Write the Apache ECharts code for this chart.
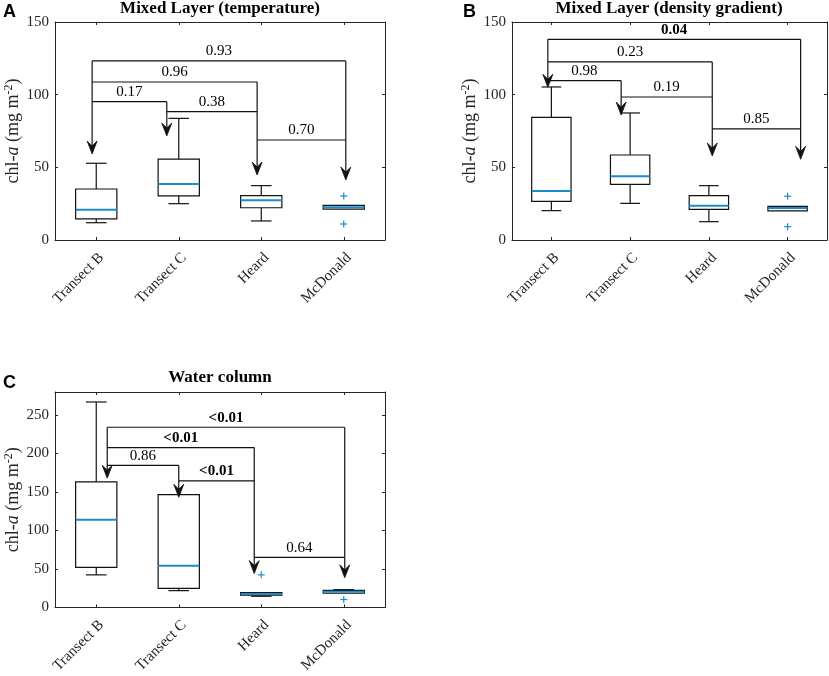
<!DOCTYPE html>
<html>
<head>
<meta charset="utf-8">
<script src="https://cdn.jsdelivr.net/npm/echarts@6/dist/echarts.min.js"></script>
<style>html,body{margin:0;padding:0;background:#fff}#c{width:829px;height:676px}</style>
</head>
<body>
<div id="c"></div>
<script>
const categories = ['Transect B', 'Transect C', 'Heard', 'McDonald'];

// boxes: [low whisker, q1, median, q3, high whisker]
const boxA = [[11.9, 14.5, 20.9, 35.1, 52.8], [25.0, 30.3, 38.5, 55.7, 83.7], [13.1, 22.2, 27.4, 30.6, 37.4], [21.2, 21.2, 22.6, 23.8, 23.8]];
const outliersA = [[3, 30.3], [3, 11.0]];
const boxB = [[20.2, 26.6, 33.7, 84.4, 105.3], [25.2, 38.3, 43.8, 58.5, 87.4], [12.6, 21.1, 23.6, 30.5, 37.4], [20.0, 20.0, 22.0, 23.2, 23.2]];
const outliersB = [[3, 30.1], [3, 9.2]];
const boxC = [[42.3, 52.1, 114.1, 163.2, 267], [21.8, 24.8, 54.3, 146.6, 146.6], [14.5, 15.8, 17.5, 19.2, 19.2], [18.4, 18.4, 20.5, 22.2, 23.1]];
const outliersC = [[2, 42.3], [3, 10.3]];

// comparison brackets
const pairs = [[0, 3], [0, 2], [0, 1], [1, 2], [2, 3]];
const levelsA = [123.2, 108.7, 95.2, 88.3, 68.8];
const pValuesA = ['0.93', '0.96', '0.17', '0.38', '0.70'];
const boldA = [false, false, false, false, false];
const arrowTipsA = [59.2, 71.6, 44.7, 41.3];

const levelsB = [138.1, 122.5, 109.6, 98.4, 76.4];
const pValuesB = ['0.04', '0.23', '0.98', '0.19', '0.85'];
const boldB = [true, false, false, false, false];
const arrowTipsB = [105.1, 86.0, 57.8, 55.5];

const levelsC = [234.2, 207.7, 184.6, 164.5, 65.0];
const pValuesC = ['<0.01', '<0.01', '0.86', '<0.01', '0.64'];
const boldC = [true, true, false, true, false];
const arrowTipsC = [168, 143.2, 44, 38.5];

const yTicks = [0, 50, 100, 150, 200, 250];

// layout constants (arrow line offset as fraction of category band)
const arrowShiftA = [-0.05, -0.145, -0.05, 0.025];
const arrowShiftB = [-0.045, -0.114, 0.043, 0.165];
const arrowShiftC = [0.133, 0, -0.085, 0.012];

const AX = '#262626';
const BLUE = '#1a8bcc';
const SERIF = '"Liberation Serif", "DejaVu Serif", serif';

const chart = echarts.init(document.getElementById('c'), null, {renderer: 'canvas'});

function ln(x1, y1, x2, y2, color, w) {
  return {type: 'line', shape: {x1, y1, x2, y2}, style: {stroke: color, lineWidth: w}};
}

function boxRender(params, api) {
  const cat = api.value(0);
  const bw = api.size([1, 0])[0];
  const half = bw * 0.25, cap = bw * 0.125;
  const cx = api.coord([cat, 0])[0];
  const y = i => api.coord([cat, api.value(i)])[1];
  const lo = y(1), q1 = y(2), md = y(3), q3 = y(4), hi = y(5);
  const ch = [];
  if (hi < q3 - 0.5) { ch.push(ln(cx, q3, cx, hi, '#111', 1.2)); ch.push(ln(cx - cap, hi, cx + cap, hi, '#111', 1.2)); }
  if (lo > q1 + 0.5) { ch.push(ln(cx, q1, cx, lo, '#111', 1.2)); ch.push(ln(cx - cap, lo, cx + cap, lo, '#111', 1.2)); }
  ch.push({type: 'rect', shape: {x: cx - half, y: q3, width: 2 * half, height: q1 - q3}, style: {fill: 'none', stroke: '#111', lineWidth: 1.2}});
  ch.push(ln(cx - half, md, cx + half, md, BLUE, 2));
  return {type: 'group', children: ch};
}

function outlierRender(params, api) {
  const p = api.coord([api.value(0), api.value(1)]);
  const s = 3.5;
  return {type: 'group', children: [
    ln(p[0] - s, p[1], p[0] + s, p[1], BLUE, 1.2),
    ln(p[0], p[1] - s, p[0], p[1] + s, BLUE, 1.2)
  ]};
}

function bracketRender(levels, pv, bold, shift) {
  return function (params, api) {
    const i = params.dataIndex;
    const bw = api.size([1, 0])[0];
    const a = api.value(0), lev = api.value(1), b = api.value(2);
    const p1 = api.coord([a, lev]), p2 = api.coord([b, lev]);
    const x1 = p1[0] + shift[a] * bw, x2 = p2[0] + shift[b] * bw;
    return {type: 'group', children: [
      ln(x1, p1[1], x2, p1[1], '#111', 1.2),
      {type: 'text', x: (x1 + x2) / 2, y: p1[1] - 2, style: {text: pv[i], fill: '#000', font: (bold[i] ? 'bold ' : '') + '15px ' + SERIF, align: 'center', verticalAlign: 'bottom'}}
    ]};
  };
}

function arrowRender(levels, shift) {
  return function (params, api) {
    const cat = api.value(0), tip = api.value(1);
    let top = -Infinity;
    pairs.forEach((pr, k) => { if (pr[0] === cat || pr[1] === cat) top = Math.max(top, levels[k]); });
    const bw = api.size([1, 0])[0];
    const pt = api.coord([cat, top]), pb = api.coord([cat, tip]);
    const x = pt[0] + shift[cat] * bw;
    const yt = pt[1], yb = pb[1];
    const L = 13, W = 5, N = 5;
    return {type: 'group', children: [
      ln(x, yt, x, yb - N, '#111', 1.2),
      {type: 'polygon', shape: {points: [[x, yb], [x - W, yb - L], [x, yb - L + N], [x + W, yb - L]]}, style: {fill: '#111', stroke: '#111', lineWidth: 0.8}}
    ]};
  };
}

const grids = [
  {left: 55, top: 22, width: 330, height: 218},
  {left: 512, top: 22, width: 315, height: 218},
  {left: 55, top: 392, width: 330, height: 218}
];
const maxes = [150, 150, 280];

const xAxes = [], yAxes = [];
grids.forEach((g, gi) => {
  ['bottom', 'top'].forEach(pos => {
    xAxes.push({
      type: 'category', gridIndex: gi, data: categories, position: pos,
      axisLine: {show: true, onZero: false, lineStyle: {color: AX, width: 1}},
      axisTick: {show: true, inside: true, alignWithLabel: true, length: 3, lineStyle: {color: AX}},
      axisLabel: pos === 'bottom' ? {show: true, rotate: 45, margin: 10, verticalAlign: 'top', color: AX, fontSize: 15, fontFamily: SERIF, interval: 0} : {show: false},
      splitLine: {show: false}
    });
  });
  ['left', 'right'].forEach(pos => {
    yAxes.push({
      type: 'value', gridIndex: gi, position: pos, min: 0, max: maxes[gi], interval: 50,
      axisLine: {show: true, onZero: false, lineStyle: {color: AX, width: 1}},
      axisTick: {show: true, inside: true, length: 3, lineStyle: {color: AX}},
      axisLabel: pos === 'left' ? {show: true, margin: 6, color: AX, fontSize: 15, fontFamily: SERIF, showMaxLabel: gi < 2,
        formatter: v => (yTicks.indexOf(v) >= 0 ? String(v) : '')} : {show: false},
      splitLine: {show: false},
      name: pos === 'left' ? '{n|chl-}{i|a}{n| (mg m}{s|-2}{n|)}' : '',
      nameLocation: 'middle', nameGap: 31,
      nameTextStyle: {color: AX, fontFamily: SERIF, fontSize: 18, rich: {
        n: {fontFamily: SERIF, fontSize: 18, color: AX},
        i: {fontFamily: SERIF, fontSize: 18, fontStyle: 'italic', color: AX},
        s: {fontFamily: SERIF, fontSize: 12, color: AX, padding: [0, 0, 9, 0]}
      }}
    });
  });
});

const panels = [
  {box: boxA, out: outliersA, lev: levelsA, pv: pValuesA, bold: boldA, tips: arrowTipsA, shift: arrowShiftA},
  {box: boxB, out: outliersB, lev: levelsB, pv: pValuesB, bold: boldB, tips: arrowTipsB, shift: arrowShiftB},
  {box: boxC, out: outliersC, lev: levelsC, pv: pValuesC, bold: boldC, tips: arrowTipsC, shift: arrowShiftC}
];

const series = [];
panels.forEach((p, gi) => {
  const xi = gi * 2, yi = gi * 2;
  series.push({type: 'custom', xAxisIndex: xi, yAxisIndex: yi, renderItem: boxRender, data: p.box.map((b, i) => [i].concat(b)), encode: {x: 0, y: [1, 2, 3, 4, 5]}, silent: true});
  series.push({type: 'custom', xAxisIndex: xi, yAxisIndex: yi, renderItem: outlierRender, data: p.out, encode: {x: 0, y: 1}, silent: true});
  series.push({type: 'custom', xAxisIndex: xi, yAxisIndex: yi, renderItem: bracketRender(p.lev, p.pv, p.bold, p.shift), data: pairs.map((pr, k) => [pr[0], p.lev[k], pr[1]]), encode: {x: 0, y: 1}, silent: true});
  series.push({type: 'custom', xAxisIndex: xi, yAxisIndex: yi, renderItem: arrowRender(p.lev, p.shift), data: p.tips.map((t, i) => [i, t]), encode: {x: 0, y: 1}, silent: true});
});

const titleFont = 'bold 17px ' + SERIF;
const letterFont = 'bold 18px "Liberation Sans", Arial, sans-serif';

chart.setOption({
  animation: false,
  backgroundColor: '#fff',
  grid: grids.map(g => Object.assign({containLabel: false, show: false}, g)),
  xAxis: xAxes,
  yAxis: yAxes,
  series: series,
  graphic: [
    {type: 'text', x: 220, y: 0, style: {text: 'Mixed Layer (temperature)', font: titleFont, fill: '#000', align: 'center'}},
    {type: 'text', x: 669, y: 0, style: {text: 'Mixed Layer (density gradient)', font: titleFont, fill: '#000', align: 'center'}},
    {type: 'text', x: 220, y: 369, style: {text: 'Water column', font: titleFont, fill: '#000', align: 'center'}},
    {type: 'text', x: 3, y: 3, style: {text: 'A', font: letterFont, fill: '#000'}},
    {type: 'text', x: 463, y: 3, style: {text: 'B', font: letterFont, fill: '#000'}},
    {type: 'text', x: 3, y: 374, style: {text: 'C', font: letterFont, fill: '#000'}}
  ]
});
</script>
</body>
</html>
